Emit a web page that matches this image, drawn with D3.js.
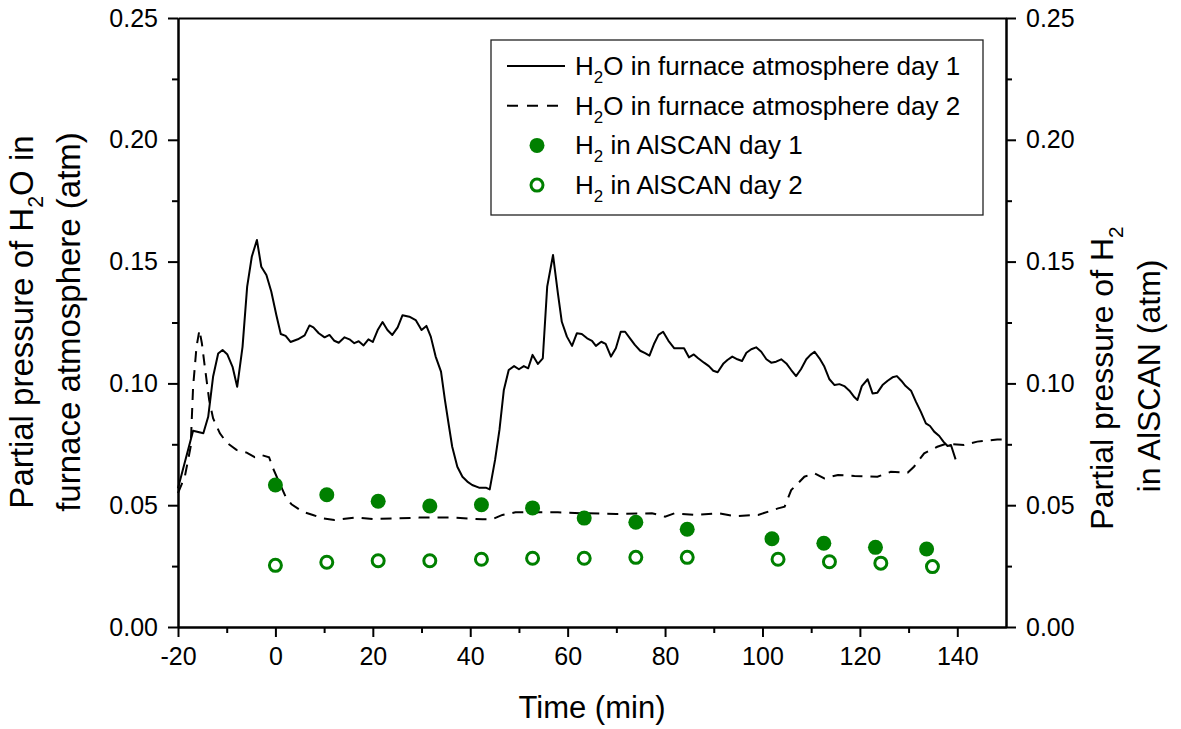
<!DOCTYPE html>
<html>
<head>
<meta charset="utf-8">
<script src="https://cdn.jsdelivr.net/npm/d3@7"></script>
<style>
  body { margin: 0; background: #fff; }
  text { font-family: "Liberation Sans", Arial, sans-serif; fill: #000; }
</style>
</head>
<body>
<svg id="chart" width="1181" height="729"></svg>
<script>
// H2O partial pressure in furnace atmosphere, day 1 (solid) [time min, atm]
var h2oDay1 = [[-20,0.057],[-16.9,0.0806],[-14.8,0.0795],[-13.8,0.0863],[-12.8,0.1027],[-11.75,0.1123],[-10.85,0.1137],[-9.9,0.112],
  [-8.8,0.1068],[-7.85,0.0986],[-6.75,0.115],[-5.8,0.1397],[-4.85,0.152],[-3.8,0.1589],[-2.9,0.1479],[-1.85,0.1445],[-0.85,0.1377],
  [0.2,0.128],[1.1,0.1203],[2.1,0.1195],[3.1,0.117],[4.6,0.1181],[6.0,0.1197],[7.0,0.1238],[7.8,0.123],[8.9,0.1206],[10.1,0.1189],
  [11.1,0.1199],[12.1,0.1175],[13.0,0.1167],[14.2,0.1189],[15.2,0.1181],[16.2,0.1165],[17.1,0.1173],[18.1,0.1156],[19.1,0.1181],
  [20.0,0.117],[21.0,0.1219],[22.0,0.1252],[23.0,0.1219],[24.0,0.1199],[25.1,0.123],[26.1,0.128],[27.5,0.1274],[28.8,0.126],
  [30.0,0.1219],[31.0,0.1236],[31.9,0.1192],[32.9,0.111],[34.0,0.1048],[34.8,0.0932],[35.65,0.0822],[36.3,0.074],[37.35,0.0658],
  [38.4,0.0617],[39.4,0.0597],[40.4,0.0583],[41.8,0.0572],[43.2,0.0572],[44.0,0.0565],[45.1,0.0686],[46.0,0.0809],[46.9,0.0973],
  [47.9,0.1055],[49.0,0.1071],[50.0,0.1058],[51.0,0.1071],[51.9,0.1062],[52.8,0.1117],[53.9,0.108],[54.9,0.1103],[55.8,0.1397],
  [57.0,0.1527],[58.0,0.137],[58.8,0.1253],[59.85,0.1192],[60.9,0.1154],[61.9,0.1206],[62.9,0.1203],[64.0,0.1185],[65.0,0.1175],
  [65.8,0.1154],[66.9,0.1171],[67.8,0.1162],[68.9,0.111],[69.9,0.1144],[70.9,0.1212],[71.8,0.1212],[72.8,0.1185],[73.8,0.1158],
  [74.9,0.1134],[75.9,0.1124],[76.8,0.1114],[77.8,0.1165],[78.65,0.1199],[79.6,0.1212],[80.7,0.1175],[81.9,0.1144],[82.9,0.1144],
  [83.9,0.1144],[84.9,0.1107],[85.9,0.1119],[86.8,0.1103],[88.0,0.1085],[89.0,0.1071],[89.9,0.1052],[90.8,0.1046],[92.0,0.1082],
  [92.8,0.1096],[93.8,0.111],[94.85,0.1099],[95.8,0.1092],[96.7,0.1126],[97.7,0.114],[98.7,0.1148],[99.75,0.113],[100.8,0.1099],
  [101.8,0.1085],[102.8,0.1089],[103.85,0.1099],[104.9,0.1082],[105.9,0.1055],[106.9,0.103],[107.9,0.1058],[109.0,0.1099],
  [109.85,0.1117],[110.7,0.113],[111.7,0.1103],[112.7,0.1069],[113.75,0.1017],[114.8,0.0993],[115.8,0.0997],[116.8,0.0989],
  [117.85,0.097],[118.9,0.0943],[119.5,0.0932],[120.4,0.0989],[121.6,0.1017],[122.6,0.0959],[123.6,0.0962],[124.65,0.0993],
  [125.7,0.1011],[126.7,0.1025],[127.6,0.103],[128.5,0.1011],[129.4,0.0989],[130.5,0.097],[131.5,0.0925],[132.5,0.0884],
  [133.55,0.0836],[134.4,0.0825],[135.25,0.0802],[136.3,0.0784],[137.15,0.0761],[138.0,0.0743],[138.7,0.0747],[139.65,0.0688]];

// H2O partial pressure in furnace atmosphere, day 2 (dashed)
var h2oDay2 = [[-20,0.055],[-18.6,0.0617],[-17.4,0.074],[-16.9,0.0986],[-16.2,0.115],[-15.6,0.1219],[-15.1,0.1165],[-14.5,0.1069],
  [-13.6,0.0932],[-12.8,0.0857],[-11.4,0.0795],[-10,0.0757],[-8,0.0727],[-5.9,0.0716],[-4.25,0.0697],[-2.9,0.0706],[-1.3,0.0697],
  [-0.5,0.0652],[2.2,0.053],[3.3,0.0504],[5.6,0.0473],[7.7,0.046],[9.7,0.0446],[12.1,0.0439],[16.6,0.045],[20,0.0443],[29.5,0.0449],
  [35.6,0.045],[42.5,0.0442],[44.5,0.0442],[46.6,0.046],[49.3,0.0471],[58,0.0471],[63,0.0467],[70,0.0464],[77.3,0.0467],[80,0.0453],
  [82,0.0467],[86,0.046],[91,0.0467],[94.3,0.0455],[99.1,0.046],[103.2,0.0487],[104.55,0.0494],[105.9,0.0562],[107.3,0.059],
  [108.6,0.0617],[110.7,0.0631],[112.7,0.061],[115.5,0.0624],[118.9,0.062],[123.6,0.0617],[126.35,0.0637],[129.8,0.0633],
  [131.1,0.0658],[133.2,0.0713],[135.9,0.074],[137.95,0.0754],[138.97,0.0751],[141.4,0.0747],[144.1,0.0761],[148.2,0.077],[150,0.077]];

// H2 in AlSCAN
var h2Day1Time = [0, 10.55, 21.1, 31.7, 42.3, 52.8, 63.4, 74.0, 84.55, 101.95, 112.6, 123.2, 133.7];
var h2Day1 = [0.0583, 0.0543, 0.0516, 0.0497, 0.0502, 0.0489, 0.0447, 0.043, 0.0401, 0.0362, 0.0344, 0.0327, 0.032];
var h2Day2Time = [0, 10.55, 21.1, 31.7, 42.3, 52.8, 63.4, 74.0, 84.55, 103.2, 113.75, 124.3, 134.9];
var h2Day2 = [0.0253, 0.0266, 0.0272, 0.0272, 0.0278, 0.0282, 0.0282, 0.0286, 0.0286, 0.0278, 0.0268, 0.0262, 0.0248];

var xMajor = [-20, 0, 20, 40, 60, 80, 100, 120, 140];
var xMinor = [-10, 10, 30, 50, 70, 90, 110, 130];
var yMajor = [0, 0.05, 0.10, 0.15, 0.20, 0.25];
var yMinor = [0.025, 0.075, 0.125, 0.175, 0.225];

var green = "#008000";
var svg = d3.select("#chart");
svg.append("rect").attr("width", 1181).attr("height", 729).attr("fill", "#fff");

var L = 178, R = 1006, T = 18, B = 627;
var x = d3.scaleLinear().domain([-20, 150]).range([L, R]);
var y = d3.scaleLinear().domain([0, 0.25]).range([B, T]);
var yRight = d3.scaleLinear().domain([0, 0.25]).range([B, T]);

function styleAxis(g) {
  g.selectAll("path,line").attr("stroke", "#000").attr("stroke-width", 2);
  g.selectAll("text").attr("font-size", 25).attr("font-family", "Liberation Sans, Arial, sans-serif").attr("fill", "#000");
}

// axes (plain hyphen for negatives, like the original)
svg.append("g").attr("transform", "translate(0," + B + ")")
  .call(d3.axisBottom(x).tickValues(xMajor).tickSize(10).tickSizeOuter(0).tickPadding(10).tickFormat(function (d) { return String(d); }))
  .call(styleAxis);
svg.append("g").attr("transform", "translate(0," + B + ")")
  .call(d3.axisBottom(x).tickValues(xMinor).tickSize(6).tickSizeOuter(0).tickFormat(""))
  .call(styleAxis);
svg.append("g").attr("transform", "translate(0," + T + ")")
  .call(d3.axisTop(x).tickValues([]).tickSizeOuter(0))
  .call(styleAxis);

svg.append("g").attr("transform", "translate(" + L + ",0)")
  .call(d3.axisLeft(y).tickValues(yMajor).tickSize(10).tickSizeOuter(0).tickPadding(10).tickFormat(d3.format(".2f")))
  .call(styleAxis);
svg.append("g").attr("transform", "translate(" + L + ",0)")
  .call(d3.axisLeft(y).tickValues(yMinor).tickSize(6).tickSizeOuter(0).tickFormat(""))
  .call(styleAxis);
svg.append("g").attr("transform", "translate(" + R + ",0)")
  .call(d3.axisRight(yRight).tickValues(yMajor).tickSize(10).tickSizeOuter(0).tickPadding(10).tickFormat(d3.format(".2f")))
  .call(styleAxis);
svg.append("g").attr("transform", "translate(" + R + ",0)")
  .call(d3.axisRight(yRight).tickValues(yMinor).tickSize(6).tickSizeOuter(0).tickFormat(""))
  .call(styleAxis);

// lines
var line = d3.line().x(function (d) { return x(d[0]); }).y(function (d) { return y(d[1]); });
svg.append("path").datum(h2oDay1).attr("d", line)
  .attr("fill", "none").attr("stroke", "#000").attr("stroke-width", 2).attr("stroke-linejoin", "round");
svg.append("path").datum(h2oDay2).attr("d", line)
  .attr("fill", "none").attr("stroke", "#000").attr("stroke-width", 2).attr("stroke-dasharray", "11,8");

// H2 points
svg.append("g").selectAll("circle").data(h2Day1).enter().append("circle")
  .attr("cx", function (d, i) { return x(h2Day1Time[i]); })
  .attr("cy", function (d) { return yRight(d); })
  .attr("r", 7.5).attr("fill", green);
svg.append("g").selectAll("circle").data(h2Day2).enter().append("circle")
  .attr("cx", function (d, i) { return x(h2Day2Time[i]); })
  .attr("cy", function (d) { return yRight(d); })
  .attr("r", 6).attr("fill", "none").attr("stroke", green).attr("stroke-width", 3);

// text with subscripts: parts = [[string, isSub], ...]
function richText(sel, parts, size) {
  var drop = size * 0.3;
  parts.forEach(function (p, i) {
    var t = sel.append("tspan").text(p[0]);
    if (p[1]) t.attr("font-size", size * 0.65).attr("dy", drop);
    else if (i > 0 && parts[i - 1][1]) t.attr("dy", -drop);
  });
  return sel;
}

// legend
var leg = svg.append("g");
leg.append("rect").attr("x", 491).attr("y", 40).attr("width", 492).attr("height", 175)
  .attr("fill", "#fff").attr("stroke", "#222").attr("stroke-width", 1.3);
var legRows = [
  { kind: "solid", parts: [["H", 0], ["2", 1], ["O in furnace atmosphere day 1", 0]] },
  { kind: "dash", parts: [["H", 0], ["2", 1], ["O in furnace atmosphere day 2", 0]] },
  { kind: "fill", parts: [["H", 0], ["2", 1], [" in AlSCAN day 1", 0]] },
  { kind: "open", parts: [["H", 0], ["2", 1], [" in AlSCAN day 2", 0]] }
];
legRows.forEach(function (r, i) {
  var cy = 66 + i * 39.7;
  if (r.kind === "solid" || r.kind === "dash") {
    leg.append("line").attr("x1", 507).attr("x2", 565).attr("y1", cy).attr("y2", cy)
      .attr("stroke", "#000").attr("stroke-width", 2)
      .attr("stroke-dasharray", r.kind === "dash" ? "11,9" : null);
  } else if (r.kind === "fill") {
    leg.append("circle").attr("cx", 537).attr("cy", cy).attr("r", 7.5).attr("fill", green);
  } else {
    leg.append("circle").attr("cx", 537).attr("cy", cy).attr("r", 6)
      .attr("fill", "none").attr("stroke", green).attr("stroke-width", 3);
  }
  richText(leg.append("text").attr("x", 575).attr("y", cy + 9).attr("font-size", 26), r.parts, 26);
});

// axis titles
svg.append("text").attr("x", 592).attr("y", 718).attr("text-anchor", "middle")
  .attr("font-size", 31).text("Time (min)");

var ttl = 33;
richText(svg.append("text").attr("transform", "translate(33,322) rotate(-90)")
  .attr("text-anchor", "middle").attr("font-size", ttl),
  [["Partial pressure of H", 0], ["2", 1], ["O in", 0]], ttl);
svg.append("text").attr("transform", "translate(80,322) rotate(-90)")
  .attr("text-anchor", "middle").attr("font-size", ttl).text("furnace atmosphere (atm)");

richText(svg.append("text").attr("transform", "translate(1113,378) rotate(-90)")
  .attr("text-anchor", "middle").attr("font-size", 32),
  [["Partial pressure of H", 0], ["2", 1]], 32);
svg.append("text").attr("transform", "translate(1160,376) rotate(-90)")
  .attr("text-anchor", "middle").attr("font-size", 32).text("in AlSCAN (atm)");
</script>
</body>
</html>
